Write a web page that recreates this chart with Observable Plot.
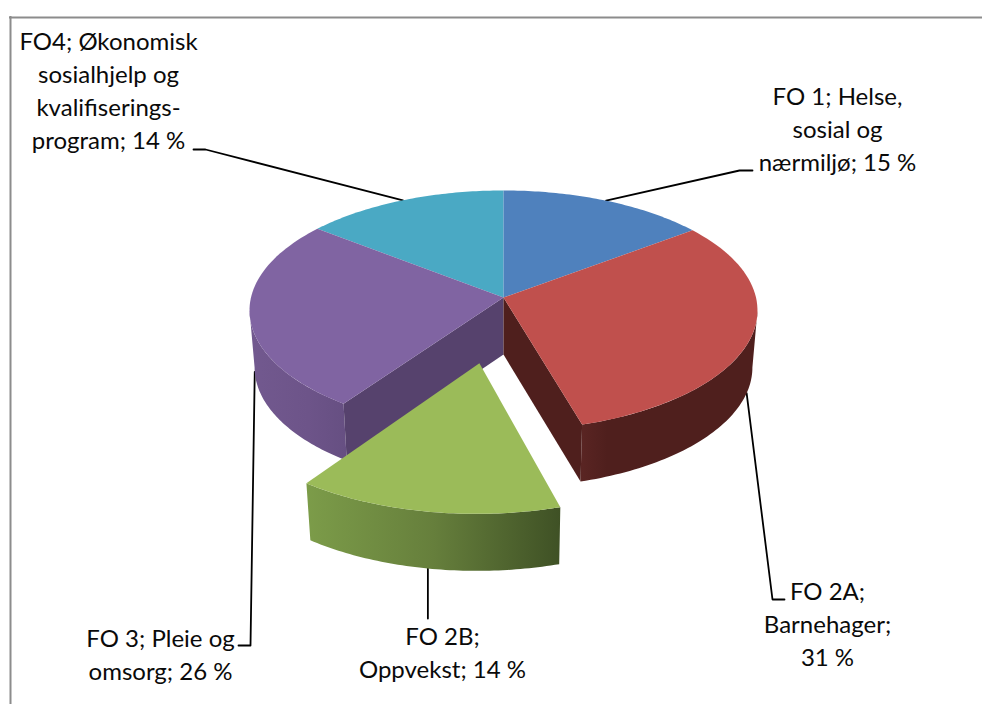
<!DOCTYPE html>
<html lang="no">
<head>
<meta charset="utf-8">
<script src="https://cdn.jsdelivr.net/npm/d3@7"></script>
<script src="https://cdn.jsdelivr.net/npm/@observablehq/plot@0.6"></script>
<style>
html,body{margin:0;padding:0;background:#fff;overflow:hidden}
svg{display:block}
</style>
</head>
<body>
<div id="chart"></div>
<script>
// ---- Data ----
const categories = ["FO 1; Helse, sosial og nærmiljø", "FO 2A; Barnehager", "FO 2B; Oppvekst", "FO 3; Pleie og omsorg", "FO4; Økonomisk sosialhjelp og kvalifiseringsprogram"];
const shares = [14.7, 30.8, 14.3, 25.8, 14.4];
const labelLines = [
  ["FO 1; Helse,", "sosial og", "nærmiljø; {v} %"],
  ["FO 2A;", "Barnehager;", "{v} %"],
  ["FO 2B;", "Oppvekst; {v} %"],
  ["FO 3; Pleie og", "omsorg; {v} %"],
  ["FO4; Økonomisk", "sosialhjelp og", "kvalifiserings-", "program; {v} %"]
];

// ---- Styles ----
const topColors = ["#4f81bd", "#c0504d", "#9bbb59", "#8064a2", "#4aa9c4"];
const wallFills = [null, "url(#wallRed)", "url(#wallGreen)", "url(#wallPurple)", null];
const sideFills = [null, "#4f1f1d", null, "#56426d", null];

// ---- Layout of the oblique 3-D view (pixels) ----
const W = 982, H = 704;
const view = {cx: 503, cy: 297, R: 252.5, A: 118.6, k: 0.108, depth: 57, shrink: 0.98};
const exploded = {index: 2, du: -0.09, dv: -0.524};
const textPos = [[837, 170], [827, 665], [442, 677], [160, 679], [108, 148]];
const leaderEnds = [
  [[739, 170], [752, 170]],
  [[772, 599], [784, 599]],
  [[427, 618]],
  [[250, 645], [238, 645]],
  [[205, 149], [193, 149]]
];

function project(theta, radius, du, dv, low) {
  const u = radius * Math.sin(theta) + du, v = radius * Math.cos(theta) + dv;
  const d = 1 + view.k * v;
  let x = view.R * u / d, y = -view.A * v / d;
  if (low) { x *= view.shrink; y += view.depth; }
  return {x: view.cx + x, y: view.cy + y};
}

// Angular extents from the shares
const total = d3.sum(shares);
const cum = d3.cumsum(shares);
const slices = shares.map((v, i) => {
  const end = cum[i] / total * 2 * Math.PI;
  const start = (cum[i] - v) / total * 2 * Math.PI;
  const off = i === exploded.index ? exploded : {du: 0, dv: 0};
  return {i, start, end, mid: (start + end) / 2, du: off.du, dv: off.dv};
});
// Only the part of the rim between the two silhouette angles faces the viewer
const silhouette = Math.acos(-view.k);
const arcBetween = (s, a, b, low) => {
  const n = 60;
  return d3.range(n + 1).map(j => project(a + (b - a) * j / n, 1, s.du, s.dv, low));
};
const topFace = s => [project(0, 0, s.du, s.dv, false), ...arcBetween(s, s.start, s.end, false)];
const wallFace = s => {
  const a = Math.max(s.start, silhouette), b = Math.min(s.end, 2 * Math.PI - silhouette);
  return [...arcBetween(s, a, b, false), ...arcBetween(s, a, b, true).reverse()];
};
const sideFace = (s, theta) => [
  project(0, 0, s.du, s.dv, false), project(theta, 1, s.du, s.dv, false),
  project(theta, 1, s.du, s.dv, true), project(0, 0, s.du, s.dv, true)
];

const poly = (pts, fill) => Plot.line(pts, {x: "x", y: "y", fill, stroke: null, curve: "linear"});

// Gradients for the shaded outer walls
const defs = () => {
  const d = d3.create("svg:defs");
  const add = (id, stops) => {
    const g = d.append("linearGradient").attr("id", id).attr("x1", 0).attr("x2", 1).attr("y1", 0).attr("y2", 0);
    stops.forEach(([o, c]) => g.append("stop").attr("offset", o).attr("stop-color", c));
  };
  add("wallGreen", [[0, "#7c9c49"], [0.5, "#667f3c"], [1, "#3f5125"]]);
  add("wallPurple", [[0, "#72598f"], [0.6, "#6d5489"], [1, "#664f82"]]);
  add("wallRed", [[0, "#5a2523"], [0.15, "#4f1f1d"], [1, "#4f1f1d"]]);
  return d.node();
};

const [blue, red, green, purple, teal] = slices;

// Leaders start on the rim at each slice's middle angle
const leaderData = slices.map((s, i) => {
  const start = project(s.mid, 1, s.du, s.dv, i >= 1 && i <= 3);
  return [start, ...leaderEnds[i].map(([x, y]) => ({x, y}))];
});
// The vertical FO 2B leader keeps the x of its rim point
leaderData[2][1].x = leaderData[2][0].x;

const labels = labelLines.map((lines, i) => ({
  name: categories[i],
  text: lines.join("\n").replace("{v}", Math.round(shares[i])),
  x: textPos[i][0], y: textPos[i][1]
}));

const plot = Plot.plot({
  width: W, height: H, margin: 0,
  style: {background: "#fff"},
  x: {domain: [0, W], range: [0, W], axis: null},
  y: {domain: [0, H], range: [0, H], axis: null},
  marks: [
    defs,
    // frame (top and left edges of the original chart area)
    Plot.ruleY([17], {x1: 9, x2: W, stroke: "#8c8c8c", strokeWidth: 2}),
    Plot.ruleX([10], {y1: 16, y2: H, stroke: "#8c8c8c", strokeWidth: 2}),
    // leaders behind the pie
    ...leaderData.map(pts => Plot.line(pts, {x: "x", y: "y", stroke: "#000", strokeWidth: 1.8, curve: "linear"})),
    // visible walls, back to front
    poly(wallFace(purple), wallFills[3]),
    poly(wallFace(red), wallFills[1]),
    poly(sideFace(purple, purple.start), sideFills[3]),
    poly(sideFace(red, red.end), sideFills[1]),
    // top faces
    ...[teal, blue, purple, red].map(s => poly(topFace(s), topColors[s.i])),
    // exploded slice
    poly(wallFace(green), wallFills[2]),
    poly(topFace(green), topColors[2]),
    // labels
    Plot.text(labels, {
      x: "x", y: "y", text: "text", textAnchor: "middle", lineAnchor: "bottom",
      lineHeight: 1.375, fontSize: 24, fontFamily: "Lato", fill: "#0a0a0a"
    })
  ]
});
document.getElementById("chart").append(plot);
</script>
</body>
</html>
